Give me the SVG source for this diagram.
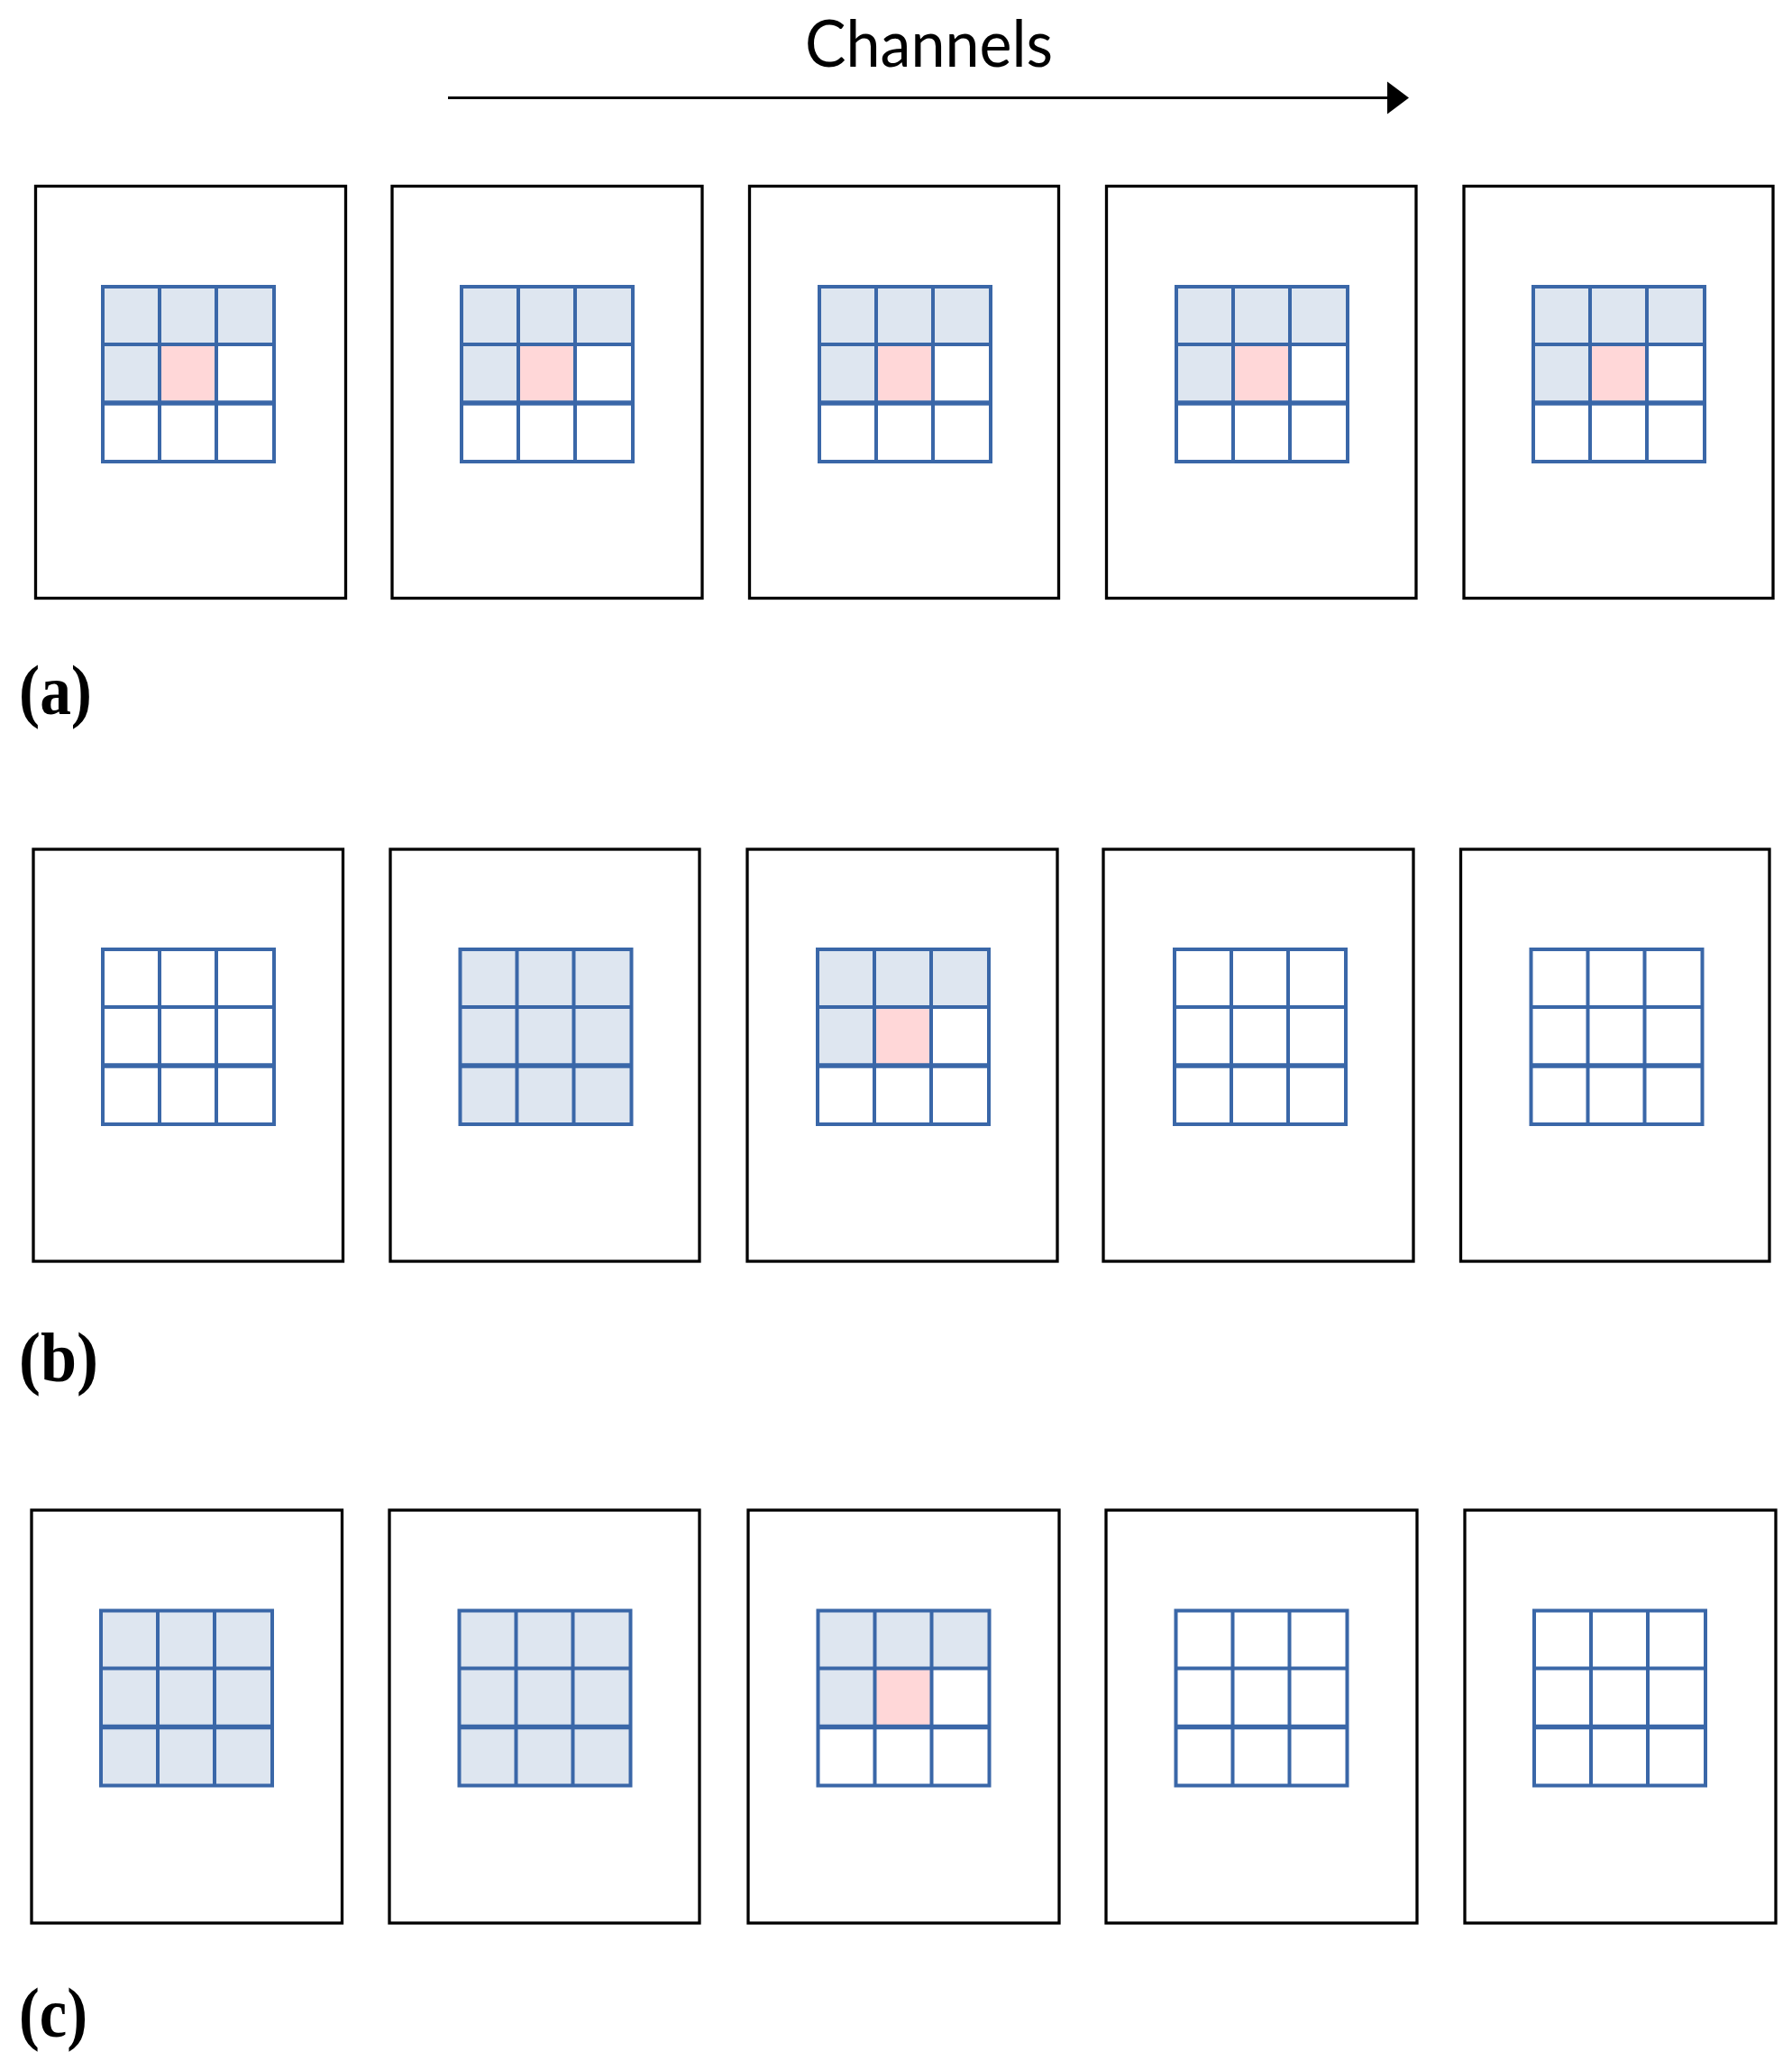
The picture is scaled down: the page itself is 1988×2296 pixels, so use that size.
<svg xmlns="http://www.w3.org/2000/svg" xmlns:xlink="http://www.w3.org/1999/xlink" width="1988" height="2296" viewBox="0 0 1988 2296">
<style>
.box{fill:#ffffff;stroke:#000000;stroke-width:3.3}
.bl{fill:#DEE6F0}
.pk{fill:#FFD7D8}
.gl{fill:none;stroke:#3A67A8;stroke-width:4}
.gl2{fill:none;stroke:#3A67A8;stroke-width:5.3}
.title{font-family:Lato,"Open Sans",sans-serif;font-size:71px;fill:#000}
.lab{font-family:"Liberation Serif","Times New Roman",serif;font-weight:bold;font-size:78px;fill:#000}
.conn{stroke:#000;stroke-width:3;fill:none}
</style>
<defs>
<g id="gridlines">
<rect class="gl" x="0" y="0" width="190" height="194"/>
<line class="gl" x1="63" y1="0" x2="63" y2="194"/>
<line class="gl" x1="126" y1="0" x2="126" y2="194"/>
<line class="gl" x1="0" y1="64" x2="190" y2="64"/>
<line class="gl2" x1="0" y1="129" x2="190" y2="129"/>
</g>
<g id="pattern">
<rect class="bl" x="0" y="0" width="190" height="64"/>
<rect class="bl" x="0" y="64" width="63" height="65"/>
<rect class="pk" x="63" y="64" width="63" height="65"/>
<use xlink:href="#gridlines"/>
</g>
<g id="allblue">
<rect class="bl" x="0" y="0" width="190" height="194"/>
<use xlink:href="#gridlines"/>
</g>
</defs>

<text class="title" x="893" y="74" textLength="275" lengthAdjust="spacingAndGlyphs">Channels</text>

<g id="connectors">
<line class="conn" x1="497" y1="108.5" x2="1541" y2="108.5"/>
<polygon points="1539,90.5 1563,108.5 1539,126.5" fill="#000"/>
</g>

<!-- Row (a) -->
<g id="a1"><rect class="box" x="39.5" y="206.5" width="344" height="457"/><use xlink:href="#pattern" x="114" y="318"/></g>
<g id="a2"><rect class="box" x="435" y="206.5" width="344" height="457"/><use xlink:href="#pattern" x="512" y="318"/></g>
<g id="a3"><rect class="box" x="831.5" y="206.5" width="343" height="457"/><use xlink:href="#pattern" x="909" y="318"/></g>
<g id="a4"><rect class="box" x="1227.5" y="206.5" width="343.5" height="457"/><use xlink:href="#pattern" x="1305" y="318"/></g>
<g id="a5"><rect class="box" x="1624" y="206.5" width="343" height="457"/><use xlink:href="#pattern" x="1701" y="318"/></g>
<text class="lab" x="21" y="792" textLength="81" lengthAdjust="spacingAndGlyphs">(a)</text>

<!-- Row (b) -->
<g id="b1"><rect class="box" x="37" y="942" width="343.5" height="457"/><use xlink:href="#gridlines" x="114" y="1053"/></g>
<g id="b2"><rect class="box" x="433" y="942" width="343" height="457"/><use xlink:href="#allblue" x="510.5" y="1053"/></g>
<g id="b3"><rect class="box" x="829" y="942" width="344" height="457"/><use xlink:href="#pattern" x="907" y="1053"/></g>
<g id="b4"><rect class="box" x="1224" y="942" width="344" height="457"/><use xlink:href="#gridlines" x="1303" y="1053"/></g>
<g id="b5"><rect class="box" x="1620.5" y="942" width="342.5" height="457"/><use xlink:href="#gridlines" x="1698.5" y="1053"/></g>
<text class="lab" x="21" y="1532" textLength="88" lengthAdjust="spacingAndGlyphs">(b)</text>

<!-- Row (c) -->
<g id="c1"><rect class="box" x="35" y="1675" width="344.5" height="458"/><use xlink:href="#allblue" x="112" y="1786.5"/></g>
<g id="c2"><rect class="box" x="432" y="1675" width="344" height="458"/><use xlink:href="#allblue" x="509.5" y="1786.5"/></g>
<g id="c3"><rect class="box" x="830" y="1675" width="345" height="458"/><use xlink:href="#pattern" x="907.5" y="1786.5"/></g>
<g id="c4"><rect class="box" x="1227" y="1675" width="345" height="458"/><use xlink:href="#gridlines" x="1304.5" y="1786.5"/></g>
<g id="c5"><rect class="box" x="1625" y="1675" width="345" height="458"/><use xlink:href="#gridlines" x="1702" y="1786.5"/></g>
<text class="lab" x="21" y="2259" textLength="76" lengthAdjust="spacingAndGlyphs">(c)</text>
</svg>
